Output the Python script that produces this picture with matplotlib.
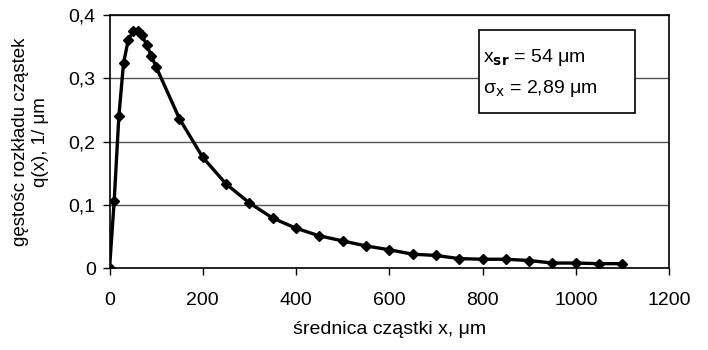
import matplotlib
matplotlib.use("Agg")
import matplotlib.pyplot as plt
from matplotlib.patches import Rectangle

plt.rcParams['font.family'] = ['Liberation Sans', 'DejaVu Sans']

x_um = [0, 10, 20, 30, 40, 50, 60, 70, 80, 90, 100, 150, 200, 250, 300, 350, 400,
        450, 500, 550, 600, 650, 700, 750, 800, 850, 900, 950, 1000, 1050, 1100]
q_x = [0.0, 0.106, 0.240, 0.324, 0.360, 0.374, 0.375, 0.368, 0.352, 0.335, 0.318,
       0.236, 0.175, 0.133, 0.103, 0.079, 0.063, 0.051, 0.043, 0.035, 0.029,
       0.022, 0.020, 0.015, 0.014, 0.014, 0.012, 0.008, 0.008, 0.007, 0.007]
x_ticks = [0, 200, 400, 600, 800, 1000, 1200]
y_ticks = [0, 0.1, 0.2, 0.3, 0.4]
y_tick_labels = ['0', '0,1', '0,2', '0,3', '0,4']

fig = plt.figure(figsize=(7.08, 3.5), dpi=100)
ax = fig.add_axes([0.1547, 0.234, 0.7903, 0.723])
ax.plot(x_um, q_x, color='black', lw=2.4, marker='D', ms=5.5, mfc='black', mec='black', zorder=3)
ax.set_xlim(0, 1200)
ax.set_ylim(0, 0.4)
ax.set_xticks(x_ticks)
ax.set_xticklabels([str(t) for t in x_ticks])
ax.set_yticks(y_ticks)
ax.set_yticklabels(y_tick_labels)
ax.yaxis.grid(True, color='#555555', lw=1)
ax.set_axisbelow(True)
for s in ax.spines.values():
    s.set_color('black')
    s.set_linewidth(1.2)
ax.tick_params(axis='both', direction='out', length=5, width=1, colors='black',
               labelsize=14, pad=5)
ax.tick_params(axis='x', pad=12)
ax.set_xlabel('średnica cząstki x, μm', fontsize=14, labelpad=9)
ax.set_ylabel('gęstośc rozkładu cząstek\nq(x), 1/ μm', fontsize=13.5, labelpad=14)

ax.add_patch(Rectangle((0.660, 0.613), 0.279, 0.328, transform=ax.transAxes,
                       fc='white', ec='black', lw=1.2, zorder=4))
ax.text(0.667, 0.834, r'x$_{\mathbf{sr}}$ = 54 μm', transform=ax.transAxes, fontsize=14,
        va='center', ha='left', zorder=5)
ax.text(0.667, 0.711, r'σ$_{\mathrm{x}}$ = 2,89 μm', transform=ax.transAxes, fontsize=14,
        va='center', ha='left', zorder=5)

fig.savefig('out.png', dpi=100)
